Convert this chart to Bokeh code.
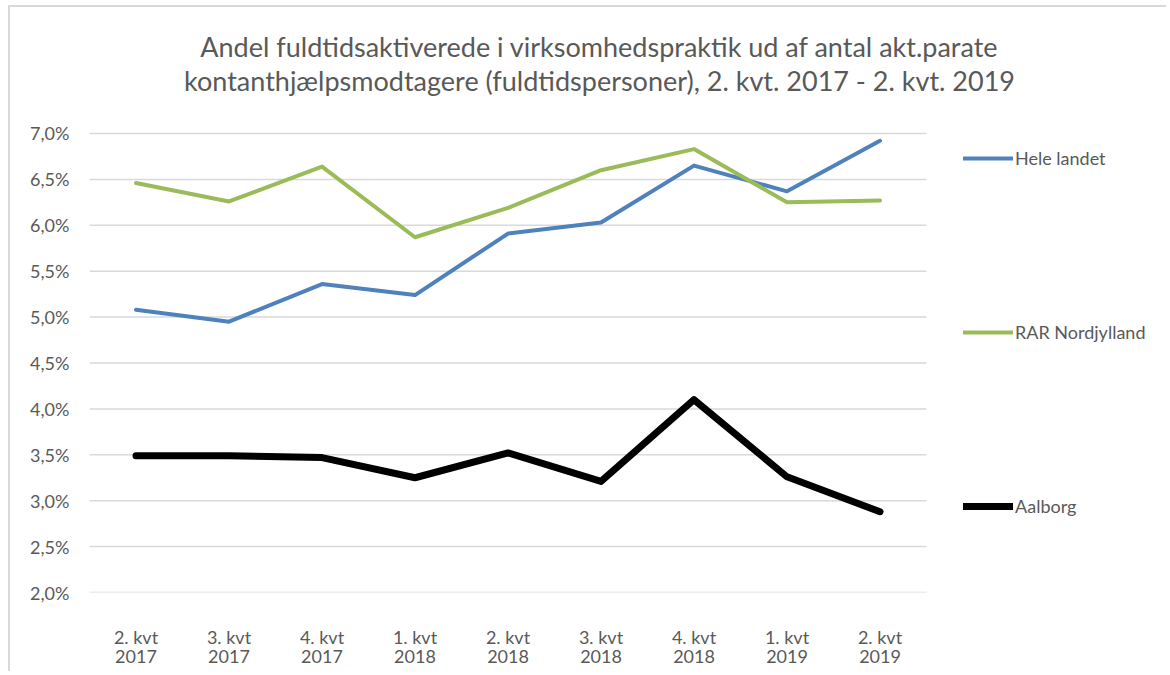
from bokeh.plotting import figure
from bokeh.models import (FixedTicker, CustomJSTickFormatter, Label, Legend, LegendItem, Range1d)
from bokeh.embed import file_html
from bokeh.resources import INLINE

categories = ["2. kvt\n2017", "3. kvt\n2017", "4. kvt\n2017", "1. kvt\n2018", "2. kvt\n2018",
              "3. kvt\n2018", "4. kvt\n2018", "1. kvt\n2019", "2. kvt\n2019"]
hele_landet = [5.08, 4.95, 5.36, 5.24, 5.91, 6.03, 6.65, 6.37, 6.92]
rar_nordjylland = [6.46, 6.26, 6.64, 5.87, 6.19, 6.60, 6.83, 6.25, 6.27]
aalborg = [3.49, 3.49, 3.47, 3.25, 3.52, 3.21, 4.10, 3.26, 2.88]
y_ticks = [2.0, 2.5, 3.0, 3.5, 4.0, 4.5, 5.0, 5.5, 6.0, 6.5, 7.0]
title_lines = ["Andel fuldtidsaktiverede i virksomhedspraktik ud af antal akt.parate",
               "kontanthjælpsmodtagere (fuldtidspersoner), 2. kvt. 2017 - 2. kvt. 2019"]

FONT = "Lato"
TXT = "#595959"

n = len(categories)
xs = [i + 0.5 for i in range(n)]

p = figure(x_range=Range1d(0, 11.602), y_range=Range1d(2.0, 8.3725), width=1158, height=666,
           output_backend="svg", toolbar_location=None,
           min_border_left=79, min_border_right=0, min_border_top=0, min_border_bottom=81)
p.margin = (5, 0, 0, 8)
p.styles = {"border-left": "2px solid #d9d9d9", "border-top": "2px solid #d9d9d9"}
p.outline_line_color = None
p.background_fill_color = "white"
p.xgrid.grid_line_color = None
p.ygrid.grid_line_color = None

# horizontal gridlines across the category span only
p.segment(x0=0, x1=n, y0=y_ticks, y1=y_ticks, line_color="#d9d9d9", line_width=1.5, level="underlay")

p.yaxis.ticker = FixedTicker(ticks=y_ticks)
p.yaxis.formatter = CustomJSTickFormatter(code="return tick.toFixed(1).replace('.', ',') + '%';")
p.xaxis.ticker = FixedTicker(ticks=xs)
p.xaxis.formatter = CustomJSTickFormatter(args=dict(labels=categories),
                                          code="return labels[Math.round(tick - 0.5)];")
for ax in (p.xaxis, p.yaxis):
    ax.axis_line_color = None
    ax.major_tick_line_color = None
    ax.minor_tick_line_color = None
    ax.major_label_text_font = FONT
    ax.major_label_text_font_size = "18px"
    ax.major_label_text_color = TXT
p.yaxis.major_label_standoff = 14
p.xaxis.major_label_standoff = 27
p.xaxis.major_label_text_line_height = 0.9

r1 = p.line(xs, hele_landet, line_color="#4f81bd", line_width=4, line_cap="round", line_join="round")
r2 = p.line(xs, rar_nordjylland, line_color="#9bbb59", line_width=4, line_cap="round", line_join="round")
r3 = p.line(xs, aalborg, line_color="black", line_width=7, line_cap="round", line_join="round")

legend = Legend(items=[LegendItem(label="Hele landet", renderers=[r1]),
                       LegendItem(label="RAR Nordjylland", renderers=[r2]),
                       LegendItem(label="Aalborg", renderers=[r3])],
                location=(874, 75), orientation="vertical", spacing=152,
                glyph_width=50, glyph_height=22, label_height=22, label_standoff=2,
                padding=0, margin=0, border_line_color=None, background_fill_alpha=0,
                label_text_font=FONT, label_text_font_size="18px", label_text_color=TXT)
p.add_layout(legend, "center")

for txt, yv in zip(title_lines, [7.95, 7.577]):
    p.add_layout(Label(x=5.484, y=yv, text=txt, text_align="center", text_baseline="middle",
                       text_font=FONT, text_font_size="27px", text_color=TXT))

open("out.html", "w").write(file_html(p, INLINE))
